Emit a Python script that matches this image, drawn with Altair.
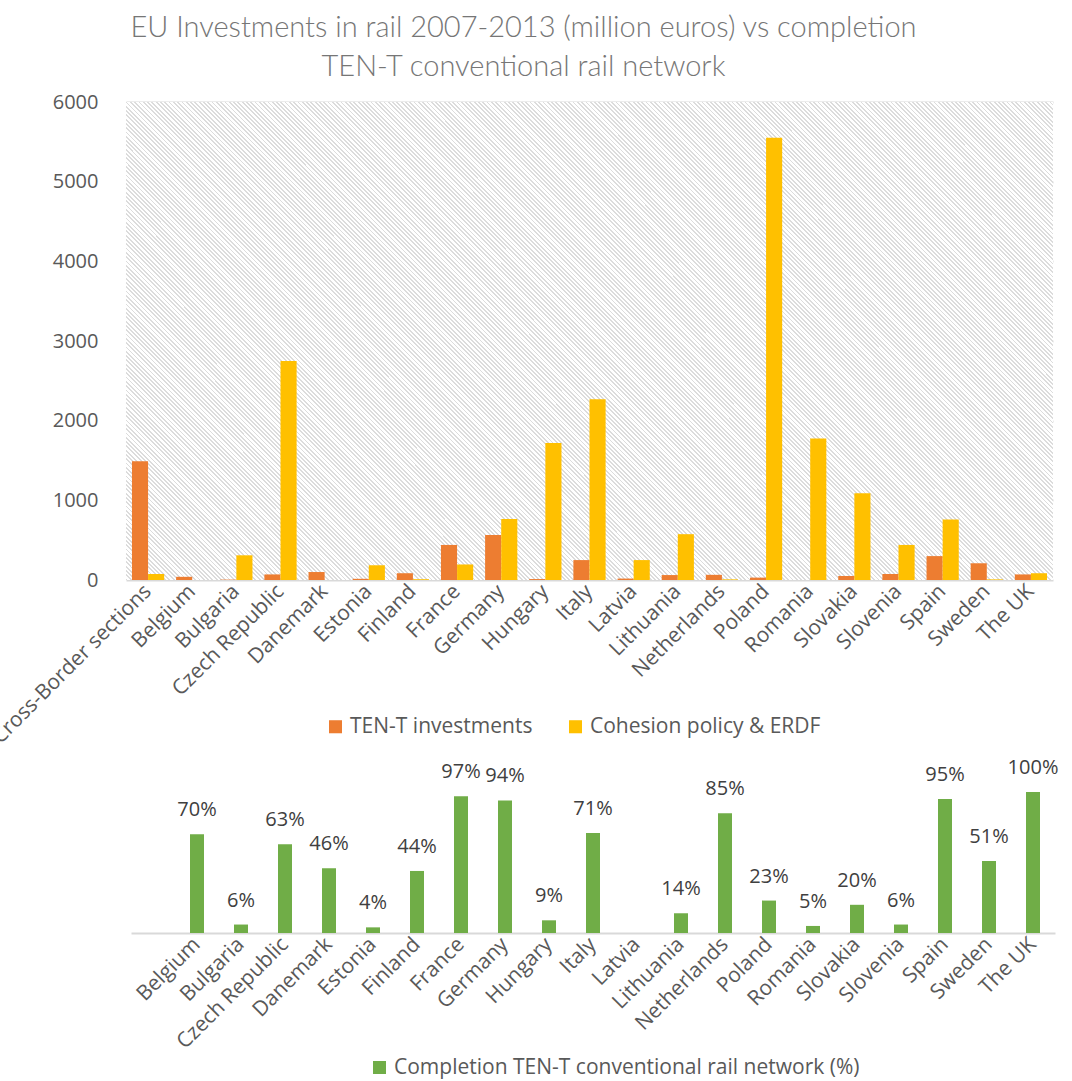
import altair as alt
import pandas as pd

# ---------------- data ----------------
countries = ["Cross-Border sections", "Belgium", "Bulgaria", "Czech Republic", "Danemark",
             "Estonia", "Finland", "France", "Germany", "Hungary", "Italy", "Latvia",
             "Lithuania", "Netherlands", "Poland", "Romania", "Slovakia", "Slovenia",
             "Spain", "Sweden", "The UK"]
ten_t = [1490, 40, 5, 70, 100, 15, 85, 440, 565, 12, 250, 18, 62, 65, 30, 0, 50, 75, 300, 210, 70]
cohesion = [75, 0, 310, 2750, 0, 185, 10, 195, 765, 1720, 2270, 250, 575, 8, 5550, 1775, 1090,
            440, 760, 8, 85]
completion_countries = ["Belgium", "Bulgaria", "Czech Republic", "Danemark", "Estonia", "Finland",
                        "France", "Germany", "Hungary", "Italy", "Latvia", "Lithuania",
                        "Netherlands", "Poland", "Romania", "Slovakia", "Slovenia", "Spain",
                        "Sweden", "The UK"]
completion = [70, 6, 63, 46, 4, 44, 97, 94, 9, 71, None, 14, 85, 23, 5, 20, 6, 95, 51, 100]
y_ticks = [0, 1000, 2000, 3000, 4000, 5000, 6000]

series_names = ["TEN-T investments", "Cohesion policy & ERDF"]
series_colors = ["#ED7D31", "#FFC000"]
completion_name = "Completion TEN-T conventional rail network (%)"
completion_color = "#70AD47"

# ---------------- tables ----------------
top_rows = []
for c, a, b in zip(countries, ten_t, cohesion):
    top_rows.append({"country": c, "series": series_names[0], "value": a})
    top_rows.append({"country": c, "series": series_names[1], "value": b})
top_df = pd.DataFrame(top_rows)

bot_df = pd.DataFrame({"country": completion_countries, "pct": completion})
bot_df = bot_df.dropna().reset_index(drop=True)
bot_df["label"] = bot_df["pct"].map(lambda v: f"{int(round(v))}%")
bot_df["series"] = completion_name

# ---------------- layout ----------------
W, H = 927, 831
TOP_H = 478
BOT_TOP = 690
FONT = "Open Sans"
TXT = "#595959"
GRID = "#d9d9d9"

# hatched background (diagonal stripes) via a many-stop linear gradient
period = 3.04 / 993.5
duty = 0.42
stops = []
k = 0
while True:
    a = round(k * period, 6)
    if a >= 1:
        break
    b = round(min(k * period + period * duty, 1.0), 6)
    c = round(min((k + 1) * period, 1.0), 6)
    stops += [{"offset": a, "color": "#dcdcdc"}, {"offset": b, "color": "#dcdcdc"},
              {"offset": b, "color": "#ffffff"}, {"offset": c, "color": "#ffffff"}]
    k += 1
hatch = {"gradient": "linear", "x1": 0, "y1": 1, "x2": 1.197, "y2": 0.383, "stops": stops}

bg = alt.Chart(pd.DataFrame({"bg": [0]})).mark_rect(fill=hatch, strokeWidth=0).encode(
    x=alt.value(0), x2=alt.value(W), y=alt.value(0), y2=alt.value(TOP_H)
)

top_bars = alt.Chart(top_df).mark_bar().encode(
    x=alt.X("country:N", sort=countries, title=None,
            scale=alt.Scale(domain=countries, paddingInner=0.27, paddingOuter=0.135),
            axis=alt.Axis(orient="bottom", offset=-(H - TOP_H), labelAngle=-45,
                          labelAlign="right", labelBaseline="middle", labelPadding=8,
                          labelFont=FONT, labelFontSize=21, labelColor=TXT,
                          domain=False, ticks=False, labelOverlap=False, labelBound=False,
                          labelFlush=False, labelLimit=400, grid=False)),
    xOffset=alt.XOffset("series:N", sort=series_names,
                        scale=alt.Scale(domain=series_names)),
    y=alt.Y("value:Q", title=None,
            scale=alt.Scale(domain=[0, 6000], range=[TOP_H, 0], nice=False, zero=True),
            axis=alt.Axis(values=y_ticks, format="d", grid=True, gridColor=GRID, gridWidth=2,
                          domain=False, ticks=False, labelPadding=28, labelFont=FONT,
                          labelFontSize=20, labelColor=TXT)),
    color=alt.Color("series:N", sort=series_names,
                    scale=alt.Scale(domain=series_names, range=series_colors),
                    legend=alt.Legend(orient="none", legendX=199, legendY=614,
                                      direction="horizontal", title=None,
                                      symbolType="square", symbolSize=170,
                                      symbolStrokeWidth=0, labelFont=FONT,
                                      labelFontSize=21, labelColor=TXT, labelLimit=600,
                                      labelOffset=4, columnPadding=32, padding=0)),
)

top = alt.layer(bg, top_bars)

bx = alt.X("country:N", sort=countries, title=None,
           scale=alt.Scale(domain=countries, range=[5, 929], paddingInner=0.2, paddingOuter=0.1),
           axis=alt.Axis(orient="bottom", labelAngle=-45, labelAlign="right",
                         labelBaseline="middle", labelPadding=8,
                         labelExpr="datum.label == 'Cross-Border sections' ? '' : datum.label",
                         labelFont=FONT, labelFontSize=21, labelColor=TXT,
                         domain=True, domainColor=GRID, domainWidth=2, ticks=False,
                         labelOverlap=False, labelBound=False, labelFlush=False,
                         labelLimit=400, grid=False))
by = alt.Y("pct:Q", title=None,
           scale=alt.Scale(domain=[0, 100], range=[H, BOT_TOP], nice=False, zero=True),
           axis=None)

bot_bars = alt.Chart(bot_df).mark_bar(size=14).encode(
    x=bx, y=by,
    color=alt.Color("series:N", scale=alt.Scale(domain=[completion_name], range=[completion_color]),
                    legend=alt.Legend(orient="none", legendX=243, legendY=955,
                                      direction="horizontal", title=None,
                                      symbolType="square", symbolSize=170,
                                      symbolStrokeWidth=0, labelFont=FONT,
                                      labelFontSize=21, labelColor=TXT,
                                      labelOffset=4, padding=0, labelLimit=800)),
)
bot_text = alt.Chart(bot_df).mark_text(baseline="alphabetic", dy=-18, font=FONT,
                                        fontSize=20, color="#404040").encode(
    x=bx, y=by, text="label:N"
)
bottom = alt.layer(bot_bars, bot_text)

chart = alt.layer(top, bottom).resolve_scale(
    x="independent", y="independent", color="independent"
).resolve_axis(x="independent", y="independent").resolve_legend(
    color="independent"
).properties(
    width=W, height=H,
    title=alt.TitleParams(
        text=["EU Investments in rail 2007-2013 (million euros) vs completion",
              "TEN-T conventional rail network"],
        font="Lato", fontSize=29, fontWeight=300, color="#767676", anchor="middle",
        frame="group", dx=-66, offset=10, lineHeight=39),
    autosize=alt.AutoSizeParams(type="none"),
    padding={"left": 126, "top": 102, "right": 19, "bottom": 148},
).configure_view(stroke=None)

chart.save("out.html", embed_options={"renderer": "svg", "actions": False})
